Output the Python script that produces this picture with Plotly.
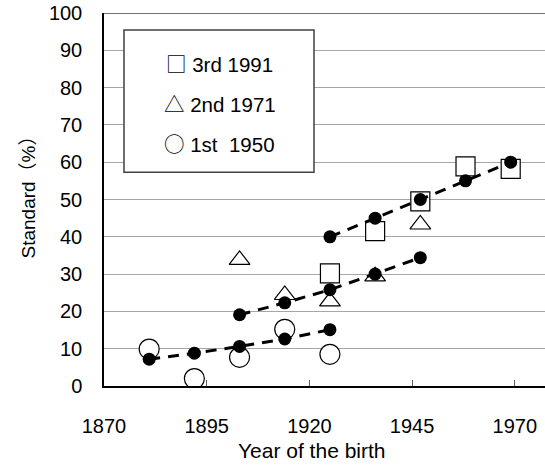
import plotly.graph_objects as go

# ---- data ----
years_1st = [1881, 1892, 1903, 1914, 1925]
obs_1st = [9.9, 2.0, 7.7, 15.2, 8.5]
fit_1st = [7.2, 8.8, 10.6, 12.6, 15.1]

years_2nd = [1903, 1914, 1925, 1936, 1947]
obs_2nd = [33.8, 24.4, 22.7, 29.4, 43.3]
fit_2nd = [19.1, 22.3, 25.8, 30.0, 34.4]

years_3rd = [1925, 1936, 1947, 1958, 1969]
obs_3rd = [30.2, 41.5, 49.5, 58.9, 58.2]
fit_3rd = [40.0, 45.0, 50.0, 55.0, 60.0]

x_ticks = [1870, 1895, 1920, 1945, 1970]
y_ticks = list(range(0, 101, 10))

legend_glyphs = ["\u25a1", "\u25b3", "\u25cb"]
legend_labels = ["3rd 1991", "2nd 1971", "1st  1950"]

FONT = "Liberation Sans"
CJK = "Noto Sans CJK JP"

fig = go.Figure()

open_marker = dict(color="white", line=dict(color="black", width=1.2))

# open markers (observed)
fig.add_trace(go.Scatter(x=years_3rd, y=obs_3rd, mode="markers", name="3rd 1991",
                         marker=dict(symbol="square", size=19, **open_marker)))
fig.add_trace(go.Scatter(x=years_2nd, y=obs_2nd, mode="markers", name="2nd 1971",
                         marker=dict(symbol="triangle-up", size=18, **open_marker)))
fig.add_trace(go.Scatter(x=years_1st, y=obs_1st, mode="markers", name="1st 1950",
                         marker=dict(symbol="circle", size=20, **open_marker)))

# fitted dashed lines with filled dots
for xs, ys in [(years_1st, fit_1st), (years_2nd, fit_2nd), (years_3rd, fit_3rd)]:
    fig.add_trace(go.Scatter(x=xs, y=ys, mode="lines+markers",
                             line=dict(color="black", width=3, dash="11px,8px"),
                             marker=dict(symbol="circle", size=13, color="black"),
                             showlegend=False))

shapes = [
    # top frame line
    dict(type="line", xref="paper", yref="y", x0=0, x1=1, y0=100, y1=100,
         line=dict(color="#404040", width=1.5)),
    # legend box
    dict(type="rect", xref="paper", yref="paper",
         x0=(124 - 104) / 441, x1=(314 - 104) / 441,
         y0=(386 - 172.3) / 373, y1=(386 - 30) / 373,
         fillcolor="white", line=dict(color="#404040", width=1.5), layer="above"),
]

annotations = []
legend_y = [63.3, 103.3, 142.7]
for g, lab, yy in zip(legend_glyphs, legend_labels, legend_y):
    txt = '<span style="font-family:%s">%s</span> %s' % (CJK, g, lab)
    annotations.append(dict(text=txt, xref="paper", yref="paper",
                            x=(219.5 - 104) / 441, y=(386 - yy) / 373,
                            xanchor="center", yanchor="middle", showarrow=False,
                            font=dict(family=FONT, size=20.5, color="black")))
# axis titles
annotations.append(dict(text="Year of the birth", xref="paper", yref="paper",
                        x=(312 - 104) / 441, y=(386 - 451) / 373,
                        xanchor="center", yanchor="middle", showarrow=False,
                        font=dict(family=FONT, size=21, color="black")))
annotations.append(dict(text="Standard\uff08%\uff09", xref="paper", yref="paper",
                        x=(28 - 104) / 441, y=(386 - 192.5) / 373, textangle=-90,
                        xanchor="center", yanchor="middle", showarrow=False,
                        font=dict(family=FONT + ", " + CJK, size=19, color="black")))

fig.update_layout(
    width=545, height=470,
    margin=dict(l=104, r=0, t=13, b=84, pad=0),
    paper_bgcolor="white", plot_bgcolor="white",
    showlegend=False,
    shapes=shapes, annotations=annotations,
    font=dict(family=FONT, size=20, color="black"),
    xaxis=dict(range=[1870, 1977.35], tickvals=x_ticks, showgrid=False,
               showline=True, linecolor="black", linewidth=1.5,
               ticks="inside", ticklen=6, tickcolor="#606060", tickwidth=1,
               ticklabelstandoff=21, zeroline=False,
               tickfont=dict(family=FONT, size=20, color="black")),
    yaxis=dict(range=[0, 100], tickvals=y_ticks, showgrid=True,
               gridcolor="#a6a6a6", gridwidth=1,
               showline=True, linecolor="black", linewidth=1.5,
               ticks="", ticklabelstandoff=16, zeroline=False,
               tickfont=dict(family=FONT, size=20, color="black")),
)

fig.write_html("out.html", config={"displayModeBar": False},
               post_script="document.body.style.margin='0';document.body.style.overflow='hidden';")
